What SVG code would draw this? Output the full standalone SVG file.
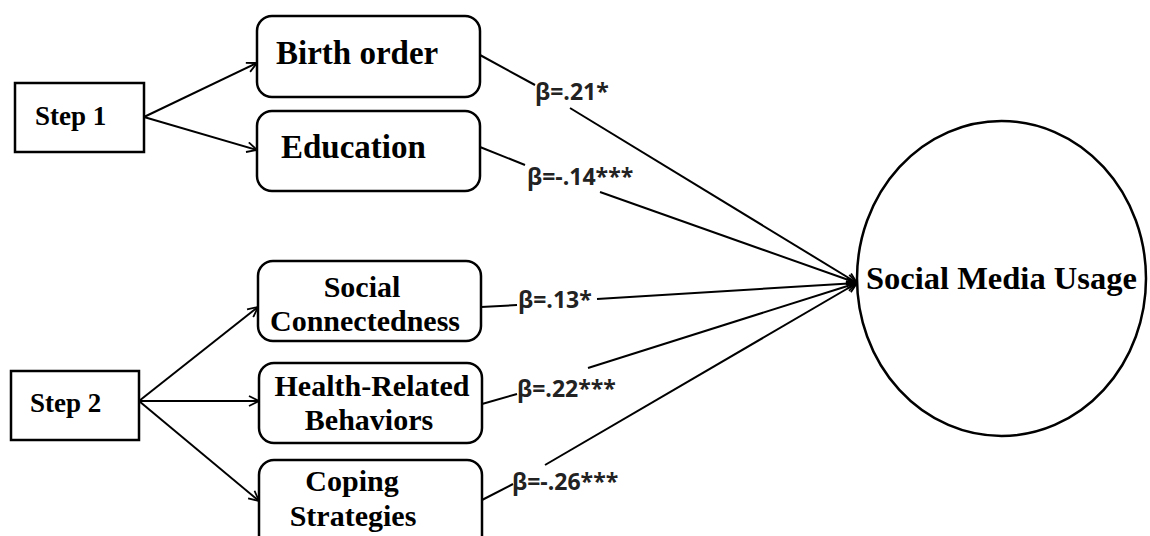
<svg xmlns="http://www.w3.org/2000/svg" width="1150" height="536" viewBox="0 0 1150 536">
<defs>
<style>
.box{fill:#fff;stroke:#000;stroke-width:2.5}
.node{font-family:"Liberation Serif","Times New Roman",serif;font-weight:bold;fill:#000}
.lbl{font-family:"Open Sans","DejaVu Sans",sans-serif;font-weight:bold;font-size:23px;fill:#222}
.edge{fill:none;stroke:#000;stroke-width:2}
</style>
<marker id="arr" viewBox="0 0 12 12" refX="11" refY="6" markerWidth="12" markerHeight="12" markerUnits="userSpaceOnUse" orient="auto">
<path d="M1,1 L11,6 L1,11" fill="none" stroke="#000" stroke-width="1.8"/>
</marker>
</defs>
<rect width="1150" height="536" fill="#fff"/>
<g id="connectors">
<path class="edge" d="M144,117 L257,63" marker-end="url(#arr)"/>
<path class="edge" d="M144,117 L257,150" marker-end="url(#arr)"/>
<path class="edge" d="M139,401 L258,307" marker-end="url(#arr)"/>
<path class="edge" d="M139,401 L259,401" marker-end="url(#arr)"/>
<path class="edge" d="M139,401 L259,501" marker-end="url(#arr)"/>
<path class="edge" d="M480,55 L535,85"/>
<path class="edge" d="M570,108 L857,283" marker-end="url(#arr)"/>
<path class="edge" d="M480,147 L525,165"/>
<path class="edge" d="M600,192 L857,283" marker-end="url(#arr)"/>
<path class="edge" d="M481,307 L517,305"/>
<path class="edge" d="M597,299 L857,283" marker-end="url(#arr)"/>
<path class="edge" d="M482,404 L517,394"/>
<path class="edge" d="M588,368 L857,283" marker-end="url(#arr)"/>
<path class="edge" d="M482,500 L513,484"/>
<path class="edge" d="M545,465 L857,283" marker-end="url(#arr)"/>
<text class="lbl" x="535" y="100">β=.21*</text>
<text class="lbl" x="527" y="185">β=-.14***</text>
<text class="lbl" x="518" y="308">β=.13*</text>
<text class="lbl" x="517" y="397">β=.22***</text>
<text class="lbl" x="512" y="490">β=-.26***</text>
</g>
<g id="step1">
<rect class="box" x="15" y="83" width="129" height="69"/>
<text class="node" x="35" y="125" font-size="27">Step 1</text>
</g>
<g id="step2">
<rect class="box" x="11" y="371" width="128" height="69"/>
<text class="node" x="30" y="412" font-size="27">Step 2</text>
</g>
<g id="birth-order">
<rect class="box" x="257" y="16" width="223" height="81" rx="15"/>
<text class="node" x="276" y="64" font-size="33">Birth order</text>
</g>
<g id="education">
<rect class="box" x="257" y="111" width="223" height="80" rx="15"/>
<text class="node" x="281" y="158" font-size="33">Education</text>
</g>
<g id="social-connectedness">
<rect class="box" x="258" y="261" width="223" height="80" rx="15"/>
<text class="node" font-size="30" text-anchor="middle"><tspan x="362" y="297">Social</tspan><tspan x="365" y="331">Connectedness</tspan></text>
</g>
<g id="health-related">
<rect class="box" x="259" y="363" width="223" height="80" rx="15"/>
<text class="node" font-size="30" text-anchor="middle"><tspan x="372" y="396">Health-Related</tspan><tspan x="369" y="430">Behaviors</tspan></text>
</g>
<g id="coping">
<rect class="box" x="259" y="460" width="223" height="100" rx="15"/>
<text class="node" font-size="30" text-anchor="middle"><tspan x="352" y="491">Coping</tspan><tspan x="353" y="526">Strategies</tspan></text>
</g>
<g id="social-media-usage">
<ellipse cx="1001.5" cy="278.5" rx="144.5" ry="157.5" fill="none" stroke="#000" stroke-width="2.5"/>
<text class="node" x="866" y="289" font-size="32.5">Social Media Usage</text>
</g>
</svg>
